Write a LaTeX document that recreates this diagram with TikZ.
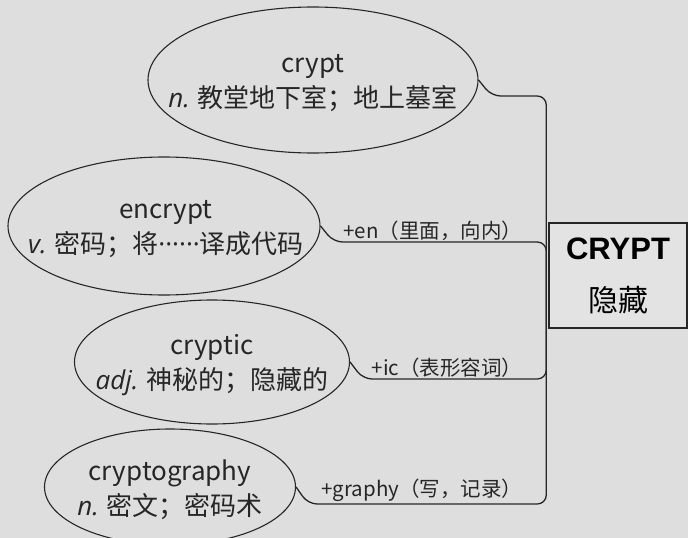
\documentclass[tikz,border=0pt]{standalone}
\usepackage{fontspec}
\setmainfont{Noto Sans CJK SC}
\newfontfamily\posfont{Open Sans}
\newfontfamily\rootfont{Liberation Sans}
\usepackage{xcolor}
\usepackage{tikz}
\usetikzlibrary{arrows.meta, positioning, shapes.geometric}
\definecolor{paper}{RGB}{222,222,222}
\definecolor{ink}{RGB}{38,38,38}

\begin{document}
\begin{tikzpicture}[x=1pt, y=-1pt,
  word/.style={ellipse, draw=ink, line width=1.1pt, inner sep=0pt},
  gloss/.style={align=center, text=ink, font=\fontsize{26}{35}\selectfont},
  root/.style={rectangle, draw=ink, line width=1.4pt, fill=paper!85!white,
               minimum width=138pt, minimum height=105pt, inner sep=0pt},
  link/.style={draw=ink, line width=1.3pt, rounded corners=9pt},
  affix/.style={text=ink, inner sep=1.5pt, font=\fontsize{20.5}{24}\selectfont}
]
  \fill[paper] (0,0) rectangle (688,538);
  \useasboundingbox (0,0) rectangle (688,538);

  % word ellipses
  \node[word, minimum width=330pt, minimum height=146pt] (crypt) at (313,80) {};
  \node[gloss] (cryptT) at (313,83) {crypt\\{\posfont\itshape n.} 教堂地下室；地上墓室};
  \node[word, minimum width=312pt, minimum height=138pt] (encrypt) at (164,226) {};
  \node[gloss] (encryptT) at (166,229) {encrypt\\{\posfont\itshape v.} 密码；将{\posfont ······}译成代码};
  \node[word, minimum width=275pt, minimum height=124pt] (cryptic) at (212,362) {};
  \node[gloss] (crypticT) at (212,365) {cryptic\\{\posfont\itshape adj.} 神秘的；隐藏的};
  \node[word, minimum width=251pt, minimum height=116pt] (graphy) at (170,487) {};
  \node[gloss] (graphyT) at (170,490) {cryptography\\{\posfont\itshape n.} 密文；密码术};

  % root box
  \node[root, align=center, font=\fontsize{30}{52}\selectfont] (root) at (618,275.5)
    {{\rootfont\bfseries\fontsize{31}{52}\selectfont CRYPT}\\隐藏};
  \coordinate (hub) at ([xshift=-2pt]root.west);

  % connectors
  \draw[link] (crypt.east) -- ++(13,16) -| (hub);
  \draw[link] (encrypt.east) -- ++(13,16) -| (hub);
  \draw[link] (cryptic.east) -- ++(13,17) -| (hub);
  \draw[link] (graphy.east) -- ++(12,17) -| (hub);

  % affix labels
  \node[affix, anchor=south east] (en) at (524,242) {+en（里面，向内）};
  \node[affix, anchor=south east] (ic) at (524,379) {+ic（表形容词）};
  \node[affix, anchor=south east] (gr) at (524,503) {+graphy（写，记录）};
\end{tikzpicture}
\end{document}
